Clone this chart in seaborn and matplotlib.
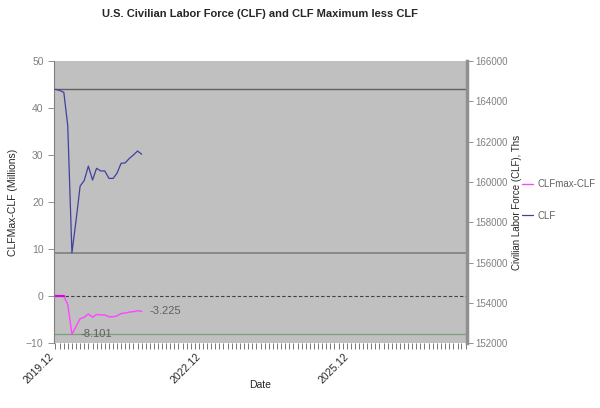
import pandas as pd
import seaborn as sns
import matplotlib.pyplot as plt
import matplotlib.dates as mdates

# monthly data, 2019.12 .. 2021.09
months = pd.date_range('2019-12-01', periods=22, freq='MS')
clf = [164600, 164550, 164450, 162800, 156481, 158050, 159800, 160070, 160790, 160100,
       160680, 160550, 160550, 160180, 160180, 160430, 160930, 160950, 161170, 161340,
       161540, 161380]
gap = [0, 0, 0, -1.8, -8.101, -6.5, -4.8, -4.5, -3.8, -4.5,
       -3.9, -4.0, -4.0, -4.4, -4.4, -4.2, -3.7, -3.6, -3.4, -3.3,
       -3.1, -3.225]
clf_max = 164600
clf_min = 156481
tick_labels = ['2019.12', '2022.12', '2025.12']

df = pd.DataFrame({'Date': months, 'CLF': clf, 'CLFmax-CLF': gap})

sns.set_style('white')
plt.rcParams['font.family'] = ['Liberation Sans', 'DejaVu Sans']

fig = plt.figure(figsize=(6, 4.08), dpi=100)
ax = fig.add_axes([0.09, 0.159, 0.688, 0.691])
ax2 = ax.twinx()
ax.set_facecolor('#c0c0c0')

# left axis: CLFmax-CLF in millions
ax.axhline(0, color='#404040', lw=0.8, ls=(0, (3, 2)))
ax.axhline(min(gap), color='#80a080', lw=1)
sns.lineplot(data=df, x='Date', y='CLFmax-CLF', ax=ax, color='#ff44ff', lw=1, label='CLFmax-CLF', legend=False)
ax.plot(df['Date'][:3], df['CLFmax-CLF'][:3], color='#e000e0', lw=1.6)
ax.text(df['Date'].iloc[-1] + pd.Timedelta(days=60), gap[-1], '-3.225', fontsize=8, color='#606060', va='center')
ax.text(df['Date'].iloc[4] + pd.Timedelta(days=60), min(gap), '-8.101', fontsize=8, color='#606060', va='center')

# right axis: CLF in thousands
ax2.axhline(clf_max, color='#606060', lw=1)
ax2.axhline(clf_min, color='#808080', lw=1.2)
sns.lineplot(data=df, x='Date', y='CLF', ax=ax2, color='#4040a0', lw=0.9, label='CLF', legend=False)

ax.set_ylim(-10, 50)
ax2.set_ylim(152000, 166000)
ax.set_yticks(range(-10, 51, 10))
ax2.set_yticks(range(152000, 166001, 2000))
ax.set_xlim(pd.Timestamp('2019-11-20'), pd.Timestamp('2028-04-10'))

major = pd.to_datetime(['2019-12-01', '2022-12-01', '2025-12-01'])
ax.set_xticks(major)
ax.set_xticklabels(tick_labels, rotation=45, ha='right', fontsize=7.5)
ax.xaxis.set_minor_locator(mdates.MonthLocator())
ax.tick_params(axis='x', which='both', direction='out', length=4, width=0.6, color='#606060', bottom=True, pad=2)
ax.tick_params(axis='y', direction='out', length=4, width=0.6, color='#808080', labelcolor='#808080', labelsize=7.5, left=True)
ax2.tick_params(axis='y', direction='out', length=4, width=0.6, color='#808080', labelcolor='#808080', labelsize=7, right=True, pad=2)

for a in (ax, ax2):
    for s in a.spines.values():
        s.set_visible(False)
ax.spines['left'].set_visible(True)
ax.spines['left'].set_color('#808080')
ax2.spines['right'].set_visible(True)
ax2.spines['right'].set_color('#909090')
ax2.spines['right'].set_linewidth(2.5)

ax.set_xlabel('Date', fontsize=7.5, labelpad=-4)
ax.set_ylabel('CLFMax-CLF (Millions)', fontsize=7.5, labelpad=6)
ax2.set_ylabel('Civilian Labor Force (CLF), Ths', fontsize=7, labelpad=3)
ax.set_title('U.S. Civilian Labor Force (CLF) and CLF Maximum less CLF', fontsize=8, fontweight='bold', pad=32)

h1, l1 = ax.get_legend_handles_labels()
h2, l2 = ax2.get_legend_handles_labels()
leg = fig.legend(h1[:1] + h2, ['CLFmax-CLF', 'CLF'], loc='center left', bbox_to_anchor=(0.855, 0.51),
                 frameon=False, fontsize=7, handlelength=1.2, handletextpad=0.4, labelspacing=2.2)
for t in leg.get_texts():
    t.set_color('#606060')

fig.savefig('out.png', dpi=100)
